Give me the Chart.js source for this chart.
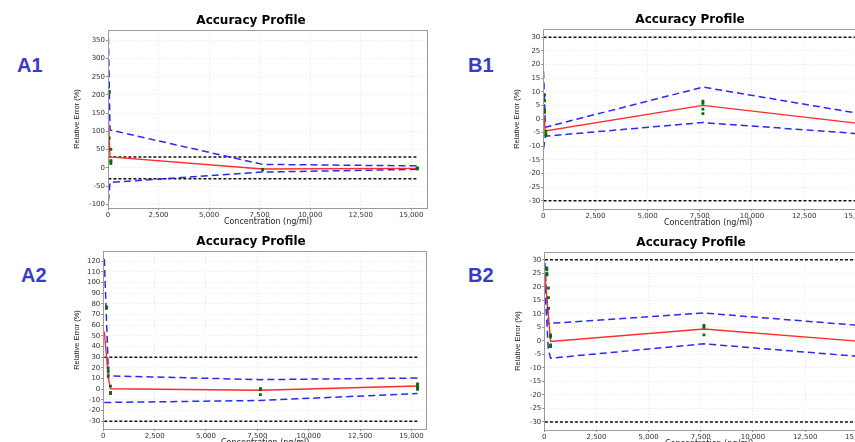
<!DOCTYPE html>
<html>
<head>
<meta charset="utf-8">
<script src="https://cdn.jsdelivr.net/npm/chart.js@4.4.1/dist/chart.umd.min.js"></script>
<style>
  html, body { margin: 0; padding: 0; background: #fff; }
  body { width: 855px; height: 442px; overflow: hidden; position: relative; }
  canvas { position: absolute; }
  .tag { position: absolute; font: bold 20px "Liberation Sans", Arial, sans-serif; line-height: 20px; color: #3a3ac6; }
</style>
</head>
<body>
<div class="tag" style="left:17px;top:55px">A1</div>
<div class="tag" style="left:468px;top:55px">B1</div>
<div class="tag" style="left:21px;top:265px">A2</div>
<div class="tag" style="left:468px;top:265px">B2</div>
<canvas id="cA1"></canvas>
<canvas id="cB1"></canvas>
<canvas id="cA2"></canvas>
<canvas id="cB2"></canvas>
<script>
// ---- A1 ----
const concA1 = [20, 100, 7650, 15300];
const meanA1 = [136, 30, -3, -1.5];
const upperA1 = [358, 104, 9.5, 5.5];
const lowerA1 = [-92, -40, -11.5, -4];
const obsConcA1 = [60, 60, 60, 140, 140, 140, 140, 7650, 7650, 15300, 15300, 15300];
const obsErrA1 = [207, 210, 82, 51, 20, 12, 17, -4, -6, -1, -3, 0];

// ---- B1 ----
const concB1 = [10, 100, 7650, 15300];
const meanB1 = [2, -4.4, 5, -1.8];
const upperB1 = [17.5, -3, 11.7, 1.8];
const lowerB1 = [-11, -6.3, -1.3, -5.5];
const obsConcB1 = [60, 60, 60, 60, 120, 120, 120, 7650, 7650, 7650, 7650, 15300, 15300, 15300];
const obsErrB1 = [8.8, 6.7, 3.3, 2.4, -4.5, -5.5, -6, 6.5, 5.7, 3.6, 2, -1, -2.5, -3];

// ---- A2 ----
const concA2 = [50, 250, 350, 7650, 15300];
const meanA2 = [54, 10, 0.5, -1, 3];
const upperA2 = [122, 14, 12.5, 9, 10.5];
const lowerA2 = [-12.5, -12.4, -12.3, -10.5, -4];
const obsConcA2 = [160, 160, 240, 240, 240, 350, 350, 350, 7650, 7650, 7650, 15300, 15300, 15300, 15300, 15300];
const obsErrA2 = [76, 77, 12, 17, 20, 3, -3, -4, 0.5, 0, -5, 5, 4, 2, 1, 0];

// ---- B2 ----
const concB2 = [30, 190, 300, 7650, 15300];
const meanB2 = [24.4, 10, -0.2, 4.4, -0.3];
const upperB2 = [28.8, 6.3, 6.5, 10.3, 5.6];
const lowerB2 = [20, -3, -6.4, -1.1, -5.9];
const obsConcB2 = [120, 120, 120, 130, 200, 200, 200, 300, 300, 300, 300, 7650, 7650, 7650];
const obsErrB2 = [27, 26.3, 25, 24.4, 19.5, 16, 12, 2.2, 1.5, -1.5, -2.1, 5.7, 5, 2.2];

const acceptLimit = 30;

Chart.defaults.animation = false;
Chart.defaults.font.family = '"DejaVu Sans", sans-serif';

const frame = {
  id: 'frame',
  afterDatasetsDraw(chart, args, opts) {
    const { ctx, chartArea: a } = chart;
    ctx.save();
    ctx.strokeStyle = '#9a9a9a';
    ctx.lineWidth = 1;
    ctx.strokeRect(Math.round(a.left) + 0.5, Math.round(a.top) + 0.5, Math.round(a.width) - 1, Math.round(a.height));
    ctx.font = 'bold 12px "DejaVu Sans", sans-serif';
    ctx.fillStyle = '#000';
    ctx.textAlign = 'center';
    ctx.textBaseline = 'middle';
    ctx.fillText(opts.text, opts.x, a.top - 9);
    ctx.restore();
  }
};

function stepTicks(min, max, step) {
  const out = [];
  for (let v = Math.ceil(min / step) * step; v <= max + 1e-9; v += step) out.push({ value: v });
  return out;
}

function lineSet(xs, ys, color, dash, width) {
  return {
    data: xs.map((x, i) => ({ x, y: ys[i] })),
    showLine: true, borderColor: color, borderWidth: width, borderDash: dash,
    pointRadius: 0, fill: false, tension: 0
  };
}

function build(id, p) {
  const el = document.getElementById(id);
  el.width = p.w; el.height = p.h;
  el.style.left = p.left + 'px'; el.style.top = p.top + 'px';
  const last = p.conc[p.conc.length - 1];
  const tickFont = { size: 7, family: '"DejaVu Sans", sans-serif' };
  new Chart(el.getContext('2d'), {
    type: 'scatter',
    data: {
      datasets: [
        { data: p.obsX.map((x, i) => ({ x, y: p.obsY[i] })), pointStyle: 'rect', pointRadius: 2,
          backgroundColor: '#0b6b0b', borderWidth: 0 },
        lineSet(p.conc, p.mean, '#ff2a2a', [], 1.4),
        lineSet(p.conc, p.upper, '#2a2af0', [7, 4], 1.5),
        lineSet(p.conc, p.lower, '#2a2af0', [7, 4], 1.5),
        lineSet([p.conc[0], last], [acceptLimit, acceptLimit], '#111', [3, 2], 1.5),
        lineSet([p.conc[0], last], [-acceptLimit, -acceptLimit], '#111', [3, 2], 1.5)
      ]
    },
    options: {
      responsive: false,
      devicePixelRatio: 1,
      layout: { padding: { top: 22, right: p.padR, left: 0, bottom: 0 } },
      plugins: { legend: { display: false }, tooltip: { enabled: false }, frame: { text: 'Accuracy Profile', x: p.titleX } },
      scales: {
        x: {
          type: 'linear', min: 0, max: p.xMax,
          afterBuildTicks: s => { s.ticks = stepTicks(0, p.xMax, 2500); },
          afterFit: s => { s.height = 20; },
          grid: { color: '#e8e8e8', tickColor: '#888', tickLength: 2, tickBorderDash: [] },
          border: { display: false, dash: [1, 2] },
          ticks: { font: tickFont, color: '#333', padding: 1, maxRotation: 0, autoSkip: false,
            callback: v => v.toLocaleString('en-US') },
          title: { display: true, text: 'Concentration (ng/ml)', color: '#222',
            font: { size: 8, family: '"DejaVu Sans", sans-serif' }, padding: { top: 0, bottom: 1 } }
        },
        y: {
          type: 'linear', min: p.yMin, max: p.yMax,
          afterBuildTicks: s => { s.ticks = stepTicks(p.yMin, p.yMax, p.yStep); },
          afterFit: s => { s.width = p.yW; },
          grid: { color: '#e8e8e8', tickColor: '#888', tickLength: 2, tickBorderDash: [] },
          border: { display: false, dash: [1, 2] },
          ticks: { font: tickFont, color: '#333', padding: 1, autoSkip: false },
          title: { display: true, text: 'Relative Error (%)', color: '#222',
            font: { size: 7.5, family: '"Liberation Sans", sans-serif' }, padding: { top: 1, bottom: 0 } }
        }
      }
    },
    plugins: [frame]
  });
}

build('cA1', { left: 71, top: 8, w: 361, h: 220, yW: 37, padR: 2, titleX: 180,
  conc: concA1, mean: meanA1, upper: upperA1, lower: lowerA1, obsX: obsConcA1, obsY: obsErrA1,
  xMax: 15830, yMin: -110, yMax: 378, yStep: 50 });
build('cA2', { left: 71, top: 229, w: 360, h: 220, yW: 32.3, padR: 2, titleX: 180,
  conc: concA2, mean: meanA2, upper: upperA2, lower: lowerA2, obsX: obsConcA2, obsY: obsErrA2,
  xMax: 15760, yMin: -37.2, yMax: 129.4, yStep: 10 });
build('cB1', { left: 511, top: 7, w: 366, h: 222, yW: 32.3, padR: 2, titleX: 179,
  conc: concB1, mean: meanB1, upper: upperB1, lower: lowerB1, obsX: obsConcB1, obsY: obsErrB1,
  xMax: 15800, yMin: -33, yMax: 33, yStep: 5 });
build('cB2', { left: 512, top: 230, w: 366, h: 220, yW: 32.3, padR: 2, titleX: 179,
  conc: concB2, mean: meanB2, upper: upperB2, lower: lowerB2, obsX: obsConcB2, obsY: obsErrB2,
  xMax: 15800, yMin: -33, yMax: 32.9, yStep: 5 });
</script>
</body>
</html>
